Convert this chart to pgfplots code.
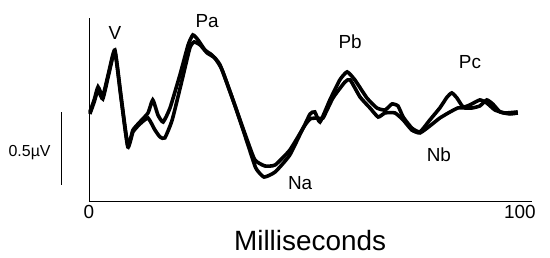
\documentclass[border=0pt]{standalone}
\usepackage{pgfplots}
\pgfplotsset{compat=1.18}
\usepackage{fontspec}
\setmainfont{Liberation Sans}

\begin{document}
\begin{tikzpicture}
\useasboundingbox (-89bp,-57bp) rectangle (461bp,201bp);
\begin{axis}[
 at={(0,0)}, anchor=south west,
 scale only axis, width=443bp, height=183bp,
 xmin=0, xmax=102.8, ymin=0, ymax=1.253,
 axis x line=bottom, axis y line=left,
 axis line style={-, line width=0.8bp},
 xtick={0,100}, ytick=\empty, major tick length=0pt,
 tick label style={font=\fontsize{19}{19}\selectfont},
 xticklabel style={yshift=-1bp},
 clip=false,
 /pgf/number format/assume math mode=true,
]
% curve A
\addplot[black, line width=3.6bp, smooth, tension=0.3] coordinates {
(0.2,0.610)(1.2,0.692)(2.1,0.781)(3.2,0.719)(4.6,0.884)(6.0,1.034)(7.4,0.726)
(9.0,0.384)(10.2,0.486)(11.8,0.541)(13.7,0.603)(14.8,0.692)(16.0,0.589)(17.2,0.541)
(18.8,0.637)(21.1,0.863)(23.0,1.068)(24.1,1.137)(25.3,1.103)(26.9,1.034)(28.5,1.000)
(30.4,0.932)(33.4,0.692)(36.7,0.418)(38.5,0.281)(40.8,0.240)(43.2,0.247)(46.6,0.349)
(49.7,0.500)(51.3,0.596)(52.4,0.610)(53.6,0.541)(55.9,0.692)(58.2,0.829)(59.9,0.884)
(61.7,0.829)(64.5,0.705)(66.8,0.637)(68.7,0.623)(70.3,0.664)(71.7,0.651)(72.9,0.575)
(74.9,0.500)(76.8,0.473)(79.1,0.555)(81.4,0.637)(83.1,0.712)(84.2,0.740)(85.4,0.705)
(86.8,0.644)(88.4,0.658)(90.7,0.692)(92.3,0.671)(94.2,0.623)(96.5,0.603)(99.5,0.610)
};
% curve B
\addplot[black, line width=3.6bp, smooth, tension=0.3] coordinates {
(0.2,0.596)(1.2,0.678)(2.1,0.760)(3.2,0.699)(4.6,0.870)(6.0,1.021)(7.4,0.712)
(9.0,0.370)(10.2,0.473)(11.8,0.527)(13.7,0.568)(15.3,0.486)(16.5,0.438)(17.6,0.432)
(19.3,0.555)(21.6,0.829)(23.4,1.048)(24.4,1.089)(25.8,1.068)(27.4,1.014)(29.2,0.979)
(30.9,0.897)(33.9,0.651)(36.9,0.384)(38.7,0.226)(40.6,0.164)(43.2,0.199)(46.6,0.315)
(49.7,0.500)(51.3,0.562)(53.1,0.568)(54.3,0.568)(56.6,0.705)(59.4,0.815)(60.6,0.829)
(62.9,0.712)(65.2,0.637)(67.1,0.575)(68.7,0.603)(71.0,0.603)(72.9,0.555)(74.9,0.486)
(76.8,0.466)(79.1,0.514)(81.4,0.568)(83.8,0.610)(85.6,0.637)(87.2,0.637)(88.9,0.637)
(90.7,0.651)(92.3,0.692)(93.7,0.664)(95.4,0.610)(97.7,0.596)(99.5,0.603)
};
% peak labels
\node[font=\fontsize{19}{19}\selectfont] at (axis cs:6.0,1.151) {V};
\node[font=\fontsize{19}{19}\selectfont] at (axis cs:27.4,1.233) {Pa};
\node[font=\fontsize{19}{19}\selectfont] at (axis cs:60.6,1.089) {Pb};
\node[font=\fontsize{19}{19}\selectfont] at (axis cs:88.4,0.952) {Pc};
\node[font=\fontsize{19}{19}\selectfont] at (axis cs:49.0,0.123) {Na};
\node[font=\fontsize{19}{19}\selectfont] at (axis cs:81.2,0.315) {Nb};
% scale bar
\draw[line width=0.8bp] (axis cs:-6.3,0.110) -- (axis cs:-6.3,0.610);
\node[anchor=east, font=\fontsize{16}{16}\selectfont] at (axis cs:-8.1,0.329) {0.5µV};
% x label
\node[anchor=base, font=\fontsize{28}{28}\selectfont] at (rel axis cs:0.499,0) [yshift=-49bp] {Milliseconds};
\end{axis}
\end{tikzpicture}
\end{document}
